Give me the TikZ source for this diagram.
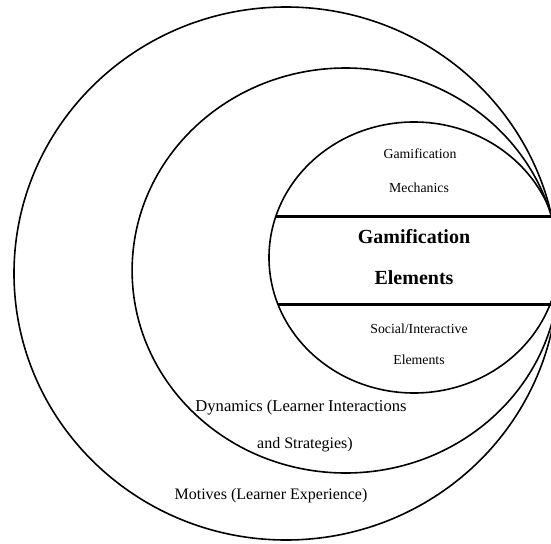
\documentclass[tikz,border=0pt]{standalone}
\usepackage{fontspec}
\setmainfont{Liberation Serif}
\usetikzlibrary{shapes.geometric}

\begin{document}
\begin{tikzpicture}[x=1pt,y=-1pt,
  ring/.style={draw,ellipse,line width=1.6pt,inner sep=0pt},
  band/.style={line width=2.2pt},
  small/.style={anchor=base,font=\fontsize{13.8}{16}\selectfont},
  mid/.style={anchor=base,font=\fontsize{16}{19}\selectfont},
  big/.style={anchor=base,font=\bfseries\fontsize{20}{24}\selectfont}]

\useasboundingbox (0,0) rectangle (551,543);
\begin{scope}
 \clip (0,0) rectangle (551,543);
 \node[ring,minimum width=544pt,minimum height=533pt] (motives) at (286,273.5) {};
 \node[ring,minimum width=427pt,minimum height=405pt] (dynamics) at (345.6,270.5) {};
 \node[ring,minimum width=290pt,minimum height=271pt] (elements) at (414,257.5) {};
	\coordinate (topl) at (275.8,216.5);  \coordinate (topr) at (551,216.5);
	\coordinate (botl) at (278,304.5);   \coordinate (botr) at (551,304.5);
 \draw[band] (topl) -- (topr);
 \draw[band] (botl) -- (botr);
\end{scope}

\node[small] (mech1) at (420,158) {Gamification};
	\node[small] (mech2) at (419,192) {Mechanics};
\node[big] (core1) at (414,243) {Gamification};
	\node[big] (core2) at (414,284) {Elements};
\node[small] (soc1) at (419,333) {Social/Interactive};
	\node[small] (soc2) at (419,364) {Elements};
\node[mid,font=\fontsize{16.6}{19}\selectfont] (dyn1) at (301,411) {Dynamics (Learner Interactions};
	\node[mid] (dyn2) at (305,448) {and Strategies)};
\node[mid] (mot) at (271,499) {Motives (Learner Experience)};

\end{tikzpicture}
\end{document}
